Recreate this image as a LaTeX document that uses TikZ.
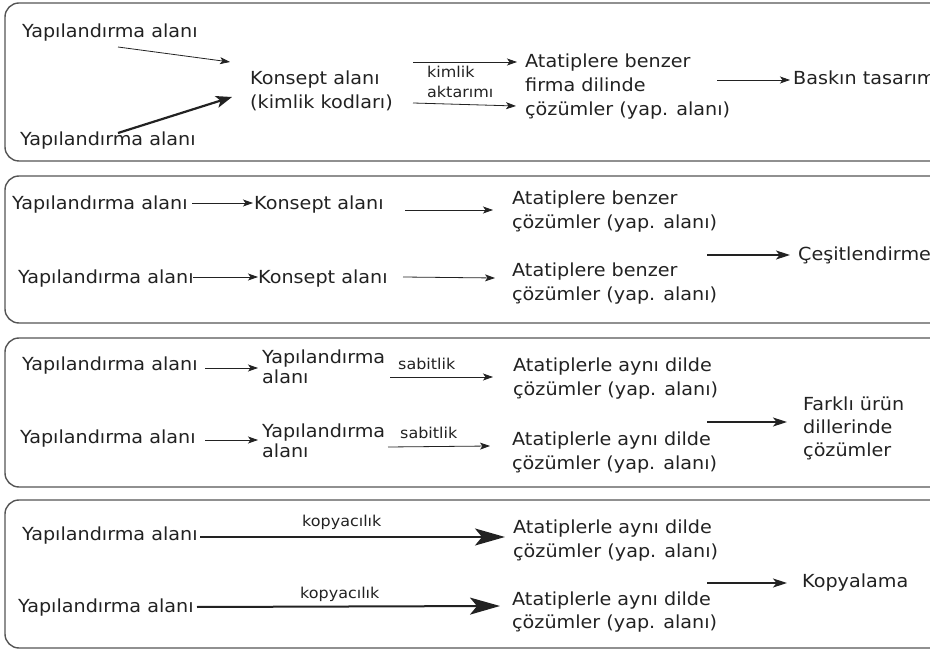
\documentclass[tikz,border=0pt]{standalone}
\usepackage{fontspec}
\setmainfont{DejaVu Sans}[FakeStretch=1.065]
\usetikzlibrary{arrows.meta}
\definecolor{ink}{HTML}{222222}
\definecolor{frame}{HTML}{555555}
% multi-line text whose baseline is that of its first line
\newcommand{\mlines}[1]{\begin{tabular}[t]{@{}l@{}}#1\end{tabular}}
\tikzset{
  txt/.style={font=\fontsize{18}{24}\selectfont, text=ink, inner sep=0pt, anchor=base west},
  tight/.style={txt, font=\fontsize{18}{19.5}\selectfont},
  lbl/.style={font=\fontsize{15}{18}\selectfont, text=ink, inner sep=0pt, anchor=base west},
  panel/.style={draw=frame, line width=1.4pt, rounded corners=14pt},
  thinarr/.style={draw=ink, line width=0.8pt, -{Stealth[length=10pt,width=7pt,inset=2.5pt]}},
  midarr/.style={draw=ink, line width=1.3pt, -{Stealth[length=14pt,width=9pt,inset=3.5pt]}},
  boldarr/.style={draw=ink, line width=2.2pt, -{Stealth[length=16pt,width=12pt,inset=4pt]}},
  heavyarr/.style={draw=ink, line width=2pt, -{Stealth[length=30pt,width=17pt,inset=7pt]}}
}
\begin{document}
\begin{tikzpicture}[x=1pt,y=-1pt]
\useasboundingbox (0,0) rectangle (930,652);
\fill[white] (0,0) rectangle (930,652);

% panels (right edges run past the page)
\draw[panel] (5,3) rectangle (960,161);
\draw[panel] (5,176) rectangle (960,323);
\draw[panel] (5,338) rectangle (960,487);
\draw[panel] (5,500) rectangle (960,648);

% ---- panel 1: dominant design
\node[txt] (y11) at (22,37.5) {Yapılandırma alanı};
\node[txt] (y12) at (20,146) {Yapılandırma alanı};
\node[txt] (k1) at (250,85) {\mlines{Konsept alanı\\(kimlik kodları)}};
\node[lbl] (l11) at (427,78) {kimlik};
\node[lbl] (l12) at (427,98) {aktarımı};
\node[txt] (at1) at (525,68) {\mlines{Atatiplere benzer\\firma dilinde\\çözümler (yap. alanı)}};
\node[txt] (bs) at (793,85) {Baskın tasarım};

\draw[thinarr] ([shift={(96,9.5)}]y11.base west) -- ([shift={(-20,-23)}]k1.base west);
\draw[boldarr] ([shift={(98,-13)}]y12.base west) -- ([shift={(-18,12)}]k1.base west);
\draw[thinarr] ([shift={(163,-23)}]k1.base west) -- ([shift={(-8,-6)}]at1.base west);
\draw[thinarr] ([shift={(163,18)}]k1.base west) -- ([shift={(-9,38)}]at1.base west);
\draw[thinarr] ([shift={(192,12)}]at1.base west) -- ([shift={(-3,-5)}]bs.base west);

% ---- panel 2: diversification
\node[txt] (y21) at (12,210) {Yapılandırma alanı};
\node[txt] (k21) at (254,210) {Konsept alanı};
\node[txt] (at21) at (512,205) {\mlines{Atatiplere benzer\\çözümler (yap. alanı)}};
\node[txt] (y22) at (18,284) {Yapılandırma alanı};
\node[txt] (k22) at (258,284) {Konsept alanı};
\node[txt] (at22) at (512,277) {\mlines{Atatiplere benzer\\çözümler (yap. alanı)}};
\node[txt] (ce) at (798,261) {Çeşitlendirme};

\draw[thinarr] ([shift={(180,-7)}]y21.base west) -- ([shift={(-1,-7)}]k21.base west);
\draw[thinarr] ([shift={(151,0)}]k21.base west) -- ([shift={(-19,5)}]at21.base west);
\draw[thinarr] ([shift={(175,-7)}]y22.base west) -- ([shift={(0,-7)}]k22.base west);
\draw[thinarr] ([shift={(145,-7)}]k22.base west) -- ([shift={(-17,1)}]at22.base west);
\draw[midarr] ([shift={(195,50)}]at21.base west) -- ([shift={(-8,-6)}]ce.base west);

% ---- panel 3: solutions in different product languages
\node[txt] (y31) at (22,371) {Yapılandırma alanı};
\node[tight] (n31) at (262,364) {\mlines{Yapılandırma\\alanı}};
\node[lbl] (s31) at (398,370) {sabitlik};
\node[txt] (at31) at (513,372) {\mlines{Atatiplerle aynı dilde\\çözümler (yap. alanı)}};
\node[txt] (y32) at (20,444) {Yapılandırma alanı};
\node[tight] (n32) at (262,438) {\mlines{Yapılandırma\\alanı}};
\node[lbl] (s32) at (400,439) {sabitlik};
\node[txt] (at32) at (512,446) {\mlines{Atatiplerle aynı dilde\\çözümler (yap. alanı)}};
\node[txt, font=\fontsize{18}{23}\selectfont] (fk) at (803,411) {\mlines{Farklı ürün\\dillerinde\\çözümler}};

\draw[thinarr] ([shift={(183,-3)}]y31.base west) -- ([shift={(-4,4)}]n31.base west);
\draw[thinarr] ([shift={(128,13)}]n31.base west) -- ([shift={(-20,5)}]at31.base west);
\draw[thinarr] ([shift={(185,-4)}]y32.base west) -- ([shift={(-4,2)}]n32.base west);
\draw[thinarr] ([shift={(126,9)}]n32.base west) -- ([shift={(-22,0)}]at32.base west);
\draw[midarr] ([shift={(194,50)}]at31.base west) -- ([shift={(-16,11)}]fk.base west);

% ---- panel 4: copying
\node[txt] (y41) at (22,540) {Yapılandırma alanı};
\node[lbl] (c41) at (302,526) {kopyacılık};
\node[txt] (at41) at (513,533) {\mlines{Atatiplerle aynı dilde\\çözümler (yap. alanı)}};
\node[txt] (y42) at (18,612) {Yapılandırma alanı};
\node[lbl] (c42) at (300,598) {kopyacılık};
\node[txt] (at42) at (512,605) {\mlines{Atatiplerle aynı dilde\\çözümler (yap. alanı)}};
\node[txt] (kp) at (802,587) {Kopyalama};

\draw[heavyarr] ([shift={(178,-3)}]y41.base west) -- ([shift={(-8,4)}]at41.base west);
\draw[heavyarr] ([shift={(179,-5)}]y42.base west) -- ([shift={(-12,1)}]at42.base west);
\draw[midarr] ([shift={(194,50)}]at41.base west) -- ([shift={(-15,-4)}]kp.base west);
\end{tikzpicture}
\end{document}
